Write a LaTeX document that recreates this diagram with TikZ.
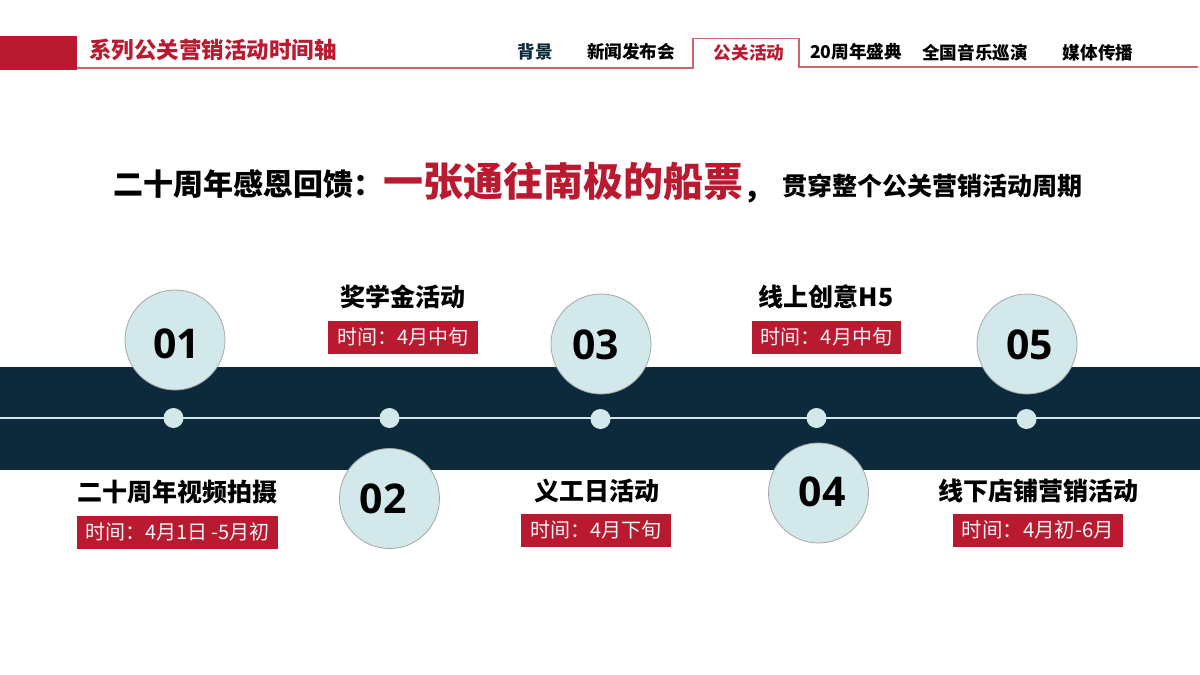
\documentclass[tikz,border=0pt]{standalone}
\usepackage{fontspec}
\setmainfont{Noto Sans CJK SC}
\newfontfamily\numfont{Open Sans}
\definecolor{brandred}{HTML}{BA1A30}
\definecolor{navy}{HTML}{0C2A3C}
\definecolor{pale}{HTML}{D2E8EA}
\definecolor{rulered}{HTML}{C9666E}
\newcommand{\tagtext}[1]{\raisebox{-0.8pt}{#1}}
\tikzset{
  every node/.style={inner sep=0pt,outer sep=0pt},
  title/.style={font=\fontsize{22.5}{26}\selectfont\bfseries,text=brandred},
  nav/.style={font=\fontsize{17.6}{20}\selectfont\bfseries,text=black},
  head/.style={font=\fontsize{25}{30}\selectfont\bfseries,text=black},
  badge/.style={circle,fill=pale,draw=black!35,line width=0.8pt,minimum size=100pt},
  num/.style={font=\numfont\fontsize{41}{44}\selectfont\bfseries,text=black},
  dot/.style={circle,fill=pale,minimum size=20pt},
  tag/.style={fill=brandred,text=pale!40!white,minimum height=33pt,font=\fontsize{20}{24}\selectfont},
}
\begin{document}
\begin{tikzpicture}[x=1pt,y=-1pt]
\useasboundingbox (0,0) rectangle (1200,675);
% header
\fill[brandred] (0,36) rectangle (77,70);
\draw[rulered,line width=1.3pt] (77,68) -- (693,68) -- (693,38.5) -- (799,38.5) -- (799,67) -- (1198,67);
\node[title,anchor=west] (t) at (89,49.5) {系列公关营销活动时间轴};
\node[nav,text=navy] (n1) at (535,52) {背景};
\node[nav] (n2) at (631,52) {新闻发布会};
\node[nav,text=brandred] (n3) at (749,53) {公关活动};
\node[nav] (n4) at (856,52) {20周年盛典};
\node[nav] (n5) at (975,53) {全国音乐巡演};
\node[nav] (n6) at (1098,53) {媒体传播};
% headline
\node[anchor=west,font=\fontsize{30}{34}\selectfont\bfseries] (h1) at (113,184) {二十周年感恩回馈：};
\node[anchor=west,font=\fontsize{40}{46}\selectfont\bfseries,text=brandred] (h2) at (383,181) {一张通往南极的船票};
\node[anchor=west,font=\fontsize{30}{34}\selectfont\bfseries] (h3) at (743,197) {，};
\node[anchor=west,font=\fontsize{25}{30}\selectfont\bfseries] (h4) at (782,186) {贯穿整个公关营销活动周期};
% band
\fill[navy] (0,366.5) rectangle (1200,469.5);
\draw[pale,line width=1.5pt] (0,418) -- (1200,418);
\node[dot] (d1) at (173.5,418) {};
\node[dot] (d2) at (389.5,418) {};
\node[dot] (d3) at (600.5,419) {};
\node[dot] (d4) at (816.5,418) {};
\node[dot] (d5) at (1026.5,419) {};
% badges
\node[badge] (b1) at (175,340) {};
\node[badge] (b2) at (389.5,498.5) {};
\node[badge] (b3) at (601,344) {};
\node[badge] (b4) at (818.5,493) {};
\node[badge] (b5) at (1027,344) {};
\node[num] (m1) at (176.5,343.5) {01};
\node[num] (m2) at (383,498.5) {02};
\node[num] (m3) at (595.5,344.5) {03};
\node[num] (m4) at (822,491.5) {04};
\node[num] (m5) at (1029.5,344.5) {05};
% labels
\node[head] (l2) at (402.5,297) {奖学金活动};
\node[tag,minimum width=150pt] (g2) at (403,337) {\tagtext{时间：4月中旬}};
\node[head] (l4) at (826,297) {线上创意H5};
\node[tag,minimum width=149pt] (g4) at (826.5,337) {\tagtext{时间：4月中旬}};
\node[head] (l1) at (177.5,492) {二十周年视频拍摄};
\node[tag,minimum width=201pt] (g1) at (177.5,532) {\tagtext{时间：4月1日\,-5月初}};
\node[head] (l3) at (597,491) {义工日活动};
\node[tag,minimum width=150pt] (g3) at (596,530) {\tagtext{时间：4月下旬}};
\node[head] (l5) at (1038,491) {线下店铺营销活动};
\node[tag,minimum width=170pt,font=\fontsize{20.4}{24}\selectfont] (g5) at (1038,530) {\tagtext{时间：4月初-6月}};
\end{tikzpicture}
\end{document}
